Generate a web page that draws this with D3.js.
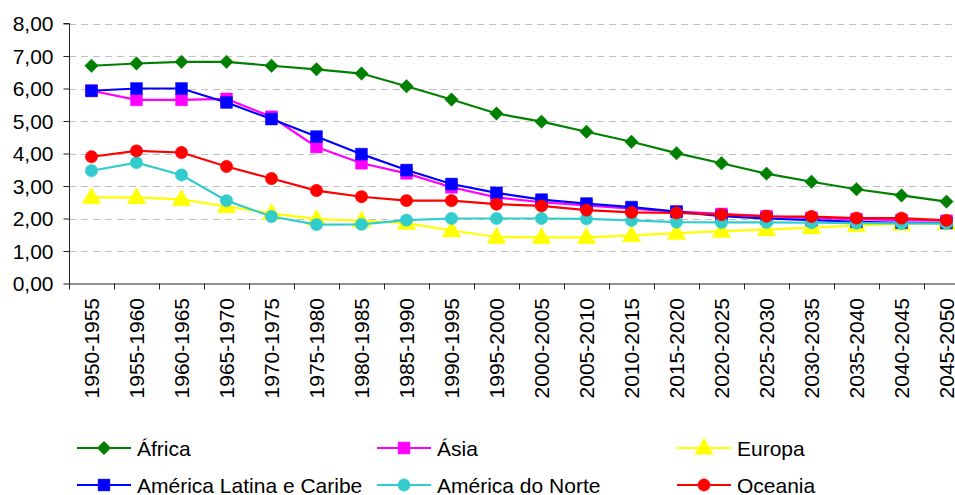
<!DOCTYPE html>
<html>
<head>
<meta charset="utf-8">
<script src="https://cdn.jsdelivr.net/npm/d3@7"></script>
<style>
html,body{margin:0;padding:0;background:#fff;}
svg{display:block;font-family:"Liberation Sans",Arial,sans-serif;}
</style>
</head>
<body>
<svg id="chart" width="955" height="495"></svg>
<script>
const periods = ["1950-1955","1955-1960","1960-1965","1965-1970","1970-1975","1975-1980","1980-1985","1985-1990","1990-1995","1995-2000","2000-2005","2005-2010","2010-2015","2015-2020","2020-2025","2025-2030","2030-2035","2035-2040","2040-2045","2045-2050"];
const yTicks = [0,1,2,3,4,5,6,7,8];

const africa   = [6.70,6.77,6.82,6.82,6.70,6.59,6.46,6.07,5.66,5.23,4.98,4.67,4.36,4.01,3.70,3.38,3.13,2.90,2.71,2.52];
const asia     = [5.93,5.65,5.65,5.68,5.13,4.20,3.70,3.39,2.96,2.65,2.50,2.40,2.30,2.21,2.14,2.07,2.02,1.98,1.95,1.93];
const europa   = [2.65,2.65,2.59,2.37,2.16,1.98,1.93,1.86,1.63,1.43,1.42,1.42,1.48,1.55,1.61,1.66,1.72,1.79,1.83,1.85];
const latam    = [5.93,6.00,6.00,5.57,5.06,4.52,3.98,3.49,3.06,2.79,2.58,2.46,2.35,2.21,2.07,2.00,1.95,1.90,1.87,1.86];
const nortam   = [3.47,3.72,3.34,2.55,2.06,1.81,1.82,1.95,2.00,2.00,2.00,1.99,1.94,1.89,1.88,1.88,1.87,1.86,1.85,1.85];
const oceania  = [3.90,4.08,4.03,3.60,3.23,2.86,2.67,2.55,2.55,2.44,2.39,2.26,2.19,2.17,2.12,2.07,2.06,2.01,2.01,1.94];

const seriesNames = ["África","Ásia","Europa","América Latina e Caribe","América do Norte","Oceania"];
const seriesData = [africa, asia, europa, latam, nortam, oceania];
const seriesColors = ["#008000","#FF00FF","#FFFF00","#0000FF","#33CCCC","#FF0000"];
const seriesSymbols = [d3.symbolSquare, d3.symbolSquare, d3.symbolTriangle, d3.symbolSquare, d3.symbolCircle, d3.symbolCircle];
const symbolSizes = [90, 140, 150, 140, 120, 120];
const symbolRot = [45, 0, 0, 0, 0, 0];

const svg = d3.select("#chart");
const x0 = 69, x1 = 969, yTop = 23.5, yBot = 283.5;

const x = d3.scaleBand().domain(periods).range([x0, x1]).padding(0);
const y = d3.scaleLinear().domain([0, 8]).range([yBot, yTop]);

// gridlines
svg.append("g").selectAll("line").data(yTicks.filter(t => t > 0)).join("line")
  .attr("x1", x0).attr("x2", x1)
  .attr("y1", d => Math.round(y(d)) + 0.5).attr("y2", d => Math.round(y(d)) + 0.5)
  .attr("stroke", "#c0c0c0").attr("stroke-width", 1).attr("stroke-dasharray", "7,5");

// y axis
const yAxis = d3.axisLeft(y).tickValues(yTicks).tickSize(6).tickPadding(10)
  .tickFormat(d => d3.format(".2f")(d).replace(".", ","));
const gy = svg.append("g").attr("transform", `translate(${x0 + 0.5},0)`).call(yAxis);
gy.select(".domain").attr("stroke", "#222").attr("d", `M-6,${yTop}H0V${yBot}`);
gy.selectAll(".tick line").attr("stroke", "#222");
gy.selectAll(".tick text").attr("font-size", 21).attr("fill", "#000").attr("dy", "0.35em")
  .attr("font-family", "'Liberation Sans',Arial,sans-serif");

// x axis
const xAxis = d3.axisBottom(x).tickSize(0).tickFormat(d => d);
const gx = svg.append("g").attr("transform", `translate(0,${yBot + 0.5})`).call(xAxis);
gx.select(".domain").attr("stroke", "#222").attr("d", `M${x0},0H${x1}`);
gx.selectAll(".tick text")
  .attr("font-size", 21).attr("fill", "#000")
  .attr("font-family", "'Liberation Sans',Arial,sans-serif")
  .attr("transform", "rotate(-90)")
  .attr("text-anchor", "end")
  .attr("x", -14).attr("y", 0).attr("dy", "0.36em");
// band boundary ticks
const bounds = periods.map(p => x(p)).concat([x1]);
svg.append("g").selectAll("line").data(bounds).join("line")
  .attr("x1", d => Math.round(d) + 0.5).attr("x2", d => Math.round(d) + 0.5)
  .attr("y1", yBot).attr("y2", yBot + 6)
  .attr("stroke", "#222");

// series
const cx = d => x(d) + x.bandwidth() / 2;
const line = d3.line().x((d, i) => cx(periods[i])).y(d => y(d));

seriesData.forEach((data, si) => {
  const g = svg.append("g");
  g.append("path").datum(data).attr("d", line)
    .attr("fill", "none").attr("stroke", seriesColors[si]).attr("stroke-width", 2.2);
  const sym = d3.symbol().type(seriesSymbols[si]).size(symbolSizes[si]);
  g.selectAll("path.m").data(data).join("path").attr("class", "m")
    .attr("d", sym)
    .attr("transform", (d, i) => `translate(${cx(periods[i])},${y(d) + (si === 2 ? 1 : 0)}) rotate(${symbolRot[si]})`)
    .attr("fill", seriesColors[si]).attr("stroke", seriesColors[si]).attr("stroke-width", 0.5);
});

// legend
const legCols = [77, 377, 677];
const legRows = [448, 485];
seriesNames.forEach((name, i) => {
  const lx = legCols[i % 3], ly = legRows[Math.floor(i / 3)];
  const g = svg.append("g").attr("transform", `translate(${lx},${ly})`);
  g.append("line").attr("x1", 0).attr("x2", 54).attr("y1", 0).attr("y2", 0)
    .attr("stroke", seriesColors[i]).attr("stroke-width", 2.2);
  g.append("path").attr("d", d3.symbol().type(seriesSymbols[i]).size(symbolSizes[i])())
    .attr("transform", `translate(27,${i === 2 ? 1 : 0}) rotate(${symbolRot[i]})`)
    .attr("fill", seriesColors[i]).attr("stroke", seriesColors[i]).attr("stroke-width", 0.5);
  g.append("text").attr("x", 60).attr("y", 0).attr("dy", "0.36em")
    .attr("font-size", 21).attr("fill", "#000").text(name);
});
</script>
</body>
</html>
